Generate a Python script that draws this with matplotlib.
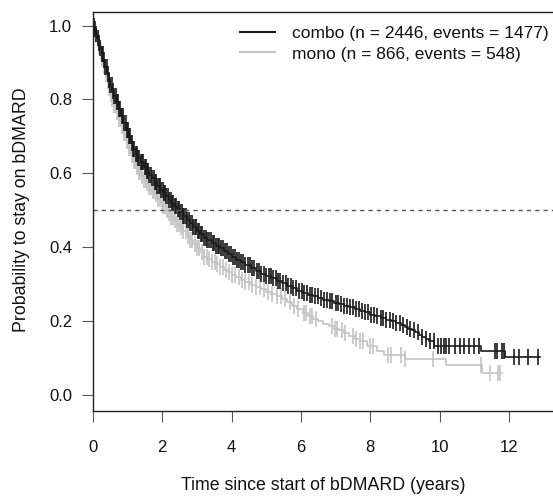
import matplotlib
matplotlib.use("Agg")
import matplotlib.pyplot as plt
from matplotlib.lines import Line2D

plt.rcParams['font.family'] = ['Liberation Sans', 'DejaVu Sans']

# Kaplan-Meier step points (time in years, survival)
combo_t = [0, 0.04, 0.08, 0.12, 0.16, 0.2, 0.25, 0.3, 0.35, 0.4, 0.45, 0.5,
           0.55, 0.6, 0.67, 0.74, 0.81, 0.88, 0.95, 1.02, 1.09, 1.16, 1.23,
           1.3, 1.38, 1.46, 1.54, 1.62, 1.7, 1.78, 1.86, 1.94, 2.02, 2.1,
           2.18, 2.26, 2.34, 2.42, 2.5, 2.6, 2.7, 2.8, 2.9, 3.0, 3.1, 3.2,
           3.3, 3.42, 3.54, 3.66, 3.78, 3.9, 4.02, 4.14, 4.26, 4.4, 4.55,
           4.7, 4.85, 5.0, 5.15, 5.3, 5.45, 5.6, 5.75, 5.9, 6.05, 6.2, 6.35,
           6.5, 6.65, 6.8, 6.95, 7.1, 7.25, 7.4, 7.55, 7.7, 7.85, 8.0, 8.15,
           8.3, 8.45, 8.6, 8.75, 8.9, 9.0, 9.1, 9.2, 9.3, 9.4, 9.5, 9.6, 9.7,
           9.85, 11.2, 11.9, 12.9]
combo_s = [1.0, 0.99, 0.978, 0.965, 0.952, 0.938, 0.922, 0.906, 0.888, 0.87,
           0.853, 0.838, 0.824, 0.81, 0.792, 0.773, 0.755, 0.737, 0.718, 0.7,
           0.683, 0.666, 0.652, 0.641, 0.63, 0.618, 0.607, 0.597, 0.587,
           0.577, 0.566, 0.556, 0.547, 0.538, 0.529, 0.52, 0.511, 0.503,
           0.495, 0.485, 0.475, 0.465, 0.455, 0.445, 0.435, 0.426, 0.419,
           0.411, 0.404, 0.397, 0.389, 0.381, 0.373, 0.366, 0.359, 0.352,
           0.344, 0.337, 0.329, 0.322, 0.316, 0.31, 0.303, 0.296, 0.29, 0.283,
           0.277, 0.272, 0.267, 0.263, 0.258, 0.254, 0.25, 0.246, 0.242,
           0.238, 0.234, 0.229, 0.224, 0.218, 0.213, 0.209, 0.204, 0.2, 0.195,
           0.19, 0.185, 0.18, 0.175, 0.17, 0.164, 0.158, 0.152, 0.146, 0.133,
           0.12, 0.104, 0.104]

mono_t = [0, 0.04, 0.08, 0.12, 0.16, 0.2, 0.25, 0.3, 0.35, 0.4, 0.45, 0.5,
          0.55, 0.6, 0.67, 0.74, 0.81, 0.88, 0.95, 1.02, 1.09, 1.16, 1.23,
          1.3, 1.38, 1.46, 1.54, 1.62, 1.7, 1.78, 1.86, 1.94, 2.02, 2.1, 2.18,
          2.26, 2.34, 2.42, 2.5, 2.6, 2.7, 2.8, 2.9, 3.0, 3.1, 3.2, 3.3, 3.42,
          3.54, 3.66, 3.78, 3.9, 4.02, 4.14, 4.26, 4.4, 4.55, 4.7, 4.85, 5.0,
          5.15, 5.3, 5.45, 5.6, 5.75, 5.9, 6.05, 6.2, 6.35, 6.5, 6.65, 6.8,
          6.95, 7.1, 7.25, 7.4, 7.55, 7.7, 7.9, 8.2, 8.4, 9.0, 10.2, 11.24,
          11.8]
mono_s = [1.0, 0.988, 0.975, 0.96, 0.944, 0.928, 0.91, 0.89, 0.87, 0.85,
          0.832, 0.815, 0.8, 0.785, 0.767, 0.748, 0.728, 0.708, 0.688, 0.668,
          0.65, 0.633, 0.618, 0.605, 0.594, 0.583, 0.573, 0.563, 0.553,
          0.543, 0.532, 0.522, 0.512, 0.502, 0.493, 0.483, 0.474, 0.464,
          0.454, 0.443, 0.431, 0.42, 0.409, 0.398, 0.386, 0.375, 0.368, 0.361,
          0.354, 0.347, 0.34, 0.333, 0.326, 0.319, 0.312, 0.305, 0.299,
          0.292, 0.286, 0.28, 0.274, 0.268, 0.26, 0.252, 0.242, 0.232, 0.223,
          0.215, 0.207, 0.2, 0.193, 0.186, 0.18, 0.175, 0.167, 0.16, 0.153,
          0.146, 0.132, 0.12, 0.108, 0.097, 0.081, 0.06, 0.06]

# censoring times (tick marks)
combo_cens = [0.03, 0.07, 0.1, 0.14, 0.17, 0.21, 0.25, 0.28, 0.32, 0.36, 0.39,
              0.43, 0.47, 0.5, 0.54, 0.57, 0.61, 0.65, 0.68, 0.72, 0.76, 0.79,
              0.83, 0.86, 0.9, 0.94, 0.97, 1.01, 1.05, 1.08, 1.12, 1.16, 1.19,
              1.23, 1.27, 1.3, 1.34, 1.38, 1.41, 1.45, 1.49, 1.52, 1.56, 1.6,
              1.63, 1.67, 1.71, 1.75, 1.78, 1.82, 1.86, 1.9, 1.93, 1.97, 2.01,
              2.05, 2.09, 2.12, 2.16, 2.2, 2.24, 2.28, 2.32, 2.36, 2.4, 2.44,
              2.48, 2.52, 2.56, 2.6, 2.64, 2.68, 2.72, 2.77, 2.81, 2.85, 2.9,
              2.94, 2.98, 3.03, 3.07, 3.12, 3.16, 3.21, 3.25, 3.3, 3.35, 3.4,
              3.45, 3.5, 3.55, 3.6, 3.65, 3.7, 3.75, 3.81, 3.86, 3.92, 3.97,
              4.03, 4.09, 4.15, 4.21, 4.27, 4.33, 4.4, 4.46, 4.52, 4.59, 4.66,
              4.72, 4.79, 4.86, 4.93, 5.0, 5.07, 5.14, 5.2, 5.27, 5.33, 5.41,
              5.48, 5.56, 5.62, 5.7, 5.78, 5.86, 5.95, 6.02, 6.1, 6.17, 6.25,
              6.33, 6.4, 6.49, 6.57, 6.66, 6.74, 6.83, 6.9, 7.0, 7.08, 7.16,
              7.25, 7.33, 7.42, 7.5, 7.6, 7.68, 7.77, 7.86, 7.95, 8.03, 8.12,
              8.2, 8.3, 8.38, 8.47, 8.56, 8.66, 8.75, 8.85, 8.95, 9.05, 9.15,
              9.25, 9.38, 9.5, 9.6, 9.72, 9.83, 9.95, 10.05, 10.12, 10.2,
              10.28, 10.45, 10.6, 10.72, 10.85, 11.0, 11.15, 11.6, 11.66, 11.8,
              11.86, 12.15, 12.3, 12.55, 12.85]
mono_cens = [0.04, 0.09, 0.13, 0.18, 0.23, 0.27, 0.32, 0.37, 0.42, 0.46, 0.51,
             0.56, 0.6, 0.65, 0.7, 0.74, 0.79, 0.84, 0.89, 0.93, 0.98, 1.03,
             1.08, 1.12, 1.17, 1.22, 1.27, 1.32, 1.37, 1.42, 1.47, 1.52, 1.57,
             1.62, 1.67, 1.72, 1.77, 1.82, 1.87, 1.93, 1.98, 2.03, 2.09, 2.14,
             2.2, 2.26, 2.31, 2.37, 2.43, 2.49, 2.55, 2.61, 2.67, 2.74, 2.8,
             2.87, 2.93, 3.0, 3.07, 3.14, 3.21, 3.28, 3.36, 3.43, 3.51, 3.59,
             3.67, 3.75, 3.84, 3.93, 4.02, 4.11, 4.2, 4.3, 4.4, 4.5, 4.6, 4.71,
             4.82, 4.93, 5.05, 5.17, 5.3, 5.42, 5.55, 5.68, 5.8, 5.93, 6.08,
             6.15, 6.25, 6.33, 6.45, 6.9, 6.97, 7.05, 7.2, 7.28, 7.5, 7.58,
             7.7, 7.8, 8.0, 8.08, 8.5, 8.6, 8.9, 9.0, 9.8, 11.2, 11.45, 11.7,
             11.76]

labels = ["combo (n = 2446, events = 1477)", "mono (n = 866, events = 548)"]
x_ticks = [0, 2, 4, 6, 8, 10, 12]
y_ticks = [0.0, 0.2, 0.4, 0.6, 0.8, 1.0]

BLACK = "#1a1a1a"
GREY = "#c4c4c4"


def surv_at(ts, ss, t):
    # value of the step curve at time t
    val = ss[0]
    for ti, si in zip(ts, ss):
        if ti <= t:
            val = si
        else:
            break
    return val


fig = plt.figure(figsize=(5.53, 4.96), dpi=100)
W, H = 553.0, 496.0
ax = fig.add_axes([93 / W, 1 - 410.7 / H, (W - 93) / W, (410.7 - 11.5) / H])

# grey first, black drawn on top
for ts, ss, cens, col in [(mono_t, mono_s, mono_cens, GREY),
                          (combo_t, combo_s, combo_cens, BLACK)]:
    ax.step(ts, ss, where="post", color=col, lw=1.2)
    cy = [surv_at(ts, ss, c) for c in cens]
    ax.plot(cens, cy, ls="none", marker="|", ms=11.5, mew=1.2, color=col)

ax.axhline(0.5, color="#555555", lw=1.0, ls=(0, (3, 3)))

ax.set_xlim(0, (W - 93) / 34.65)
ax.set_ylim(-0.042, 1.038)
ax.set_xticks(x_ticks)
ax.set_xticklabels([str(v) for v in x_ticks])
ax.set_yticks(y_ticks)
ax.set_yticklabels(["%.1f" % v for v in y_ticks])

ax.spines["right"].set_visible(False)
for s in ["left", "top", "bottom"]:
    ax.spines[s].set_color("#222222")
    ax.spines[s].set_linewidth(1.0)

ax.tick_params(axis="both", direction="out", length=8, width=0.8,
               color="#555555", labelsize=12, labelcolor="#111111")
ax.tick_params(axis="x", pad=13)
ax.tick_params(axis="y", pad=7)

fig.text(22 / W, 1 - 210 / H, "Probability to stay on bDMARD", rotation=90,
         ha="center", va="center", fontsize=12.8, color="#111111")
fig.text(323 / W, 1 - 486 / H, "Time since start of bDMARD (years)",
         ha="center", va="center", fontsize=12.8, color="#111111")

handles = [Line2D([], [], color=BLACK, lw=1.5), Line2D([], [], color=GREY, lw=1.5)]
ax.legend(handles, labels, loc="upper left", frameon=False,
          bbox_to_anchor=(240 / W, 1 - 26 / H), bbox_transform=fig.transFigure,
          handlelength=2.0, handletextpad=1.0, labelspacing=0.3,
          borderpad=0, borderaxespad=0, fontsize=12.5, labelcolor="#111111")

fig.savefig("out.png", dpi=100)
